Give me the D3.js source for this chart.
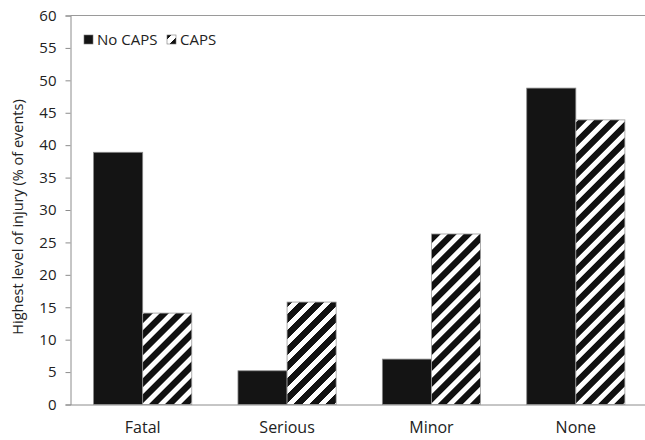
<!DOCTYPE html>
<html>
<head>
<meta charset="utf-8">
<script src="https://cdn.jsdelivr.net/npm/d3@7"></script>
<style>
  html, body { margin: 0; padding: 0; background: #fff; }
  svg { display: block; }
  text { font-family: "Open Sans", "Noto Sans", sans-serif; fill: #222; }
</style>
</head>
<body>
<svg id="chart" width="645" height="440"></svg>
<script>
// Injury severity by group
const categories = ["Fatal", "Serious", "Minor", "None"];
const seriesNames = ["No CAPS", "CAPS"];
const noCaps = [38.9, 5.2, 7.0, 48.8];
const caps = [14.1, 15.8, 26.3, 43.9];
const yTicks = [0, 5, 10, 15, 20, 25, 30, 35, 40, 45, 50, 55, 60];

const svg = d3.select("#chart");
const margin = { left: 70.5, top: 15.5, right: -3, bottom: 35.5 };
const W = 645, H = 440;
const x0 = margin.left, x1 = W - margin.right;
const yTop = margin.top, yBot = H - margin.bottom;

// Diagonal stripe fill for the CAPS series
const defs = svg.append("defs");
const pat = defs.append("pattern")
  .attr("id", "stripes")
  .attr("patternUnits", "userSpaceOnUse")
  .attr("width", 16).attr("height", 16);
pat.append("rect").attr("width", 16).attr("height", 16).attr("fill", "#fff");
pat.append("path")
  .attr("d", "M-4,4 L4,-4 M-4,20 L20,-4 M12,20 L20,12")
  .attr("stroke", "#111").attr("stroke-width", 6)
  .attr("shape-rendering", "crispEdges");

const x = d3.scaleBand().domain(categories).range([x0, x1]).paddingInner(0.32).paddingOuter(0.16);
const xs = d3.scaleBand().domain(seriesNames).range([0, x.bandwidth()]);
const y = d3.scaleLinear().domain([0, 60]).range([yBot, yTop]);

// Top edge of the plot area
svg.append("line")
  .attr("x1", x0).attr("x2", W).attr("y1", yTop).attr("y2", yTop)
  .attr("stroke", "#9a9a9a").attr("stroke-width", 1);

const rows = categories.map((c, i) => ({ cat: c, vals: [noCaps[i], caps[i]] }));

const g = svg.append("g").selectAll("g").data(rows).join("g")
  .attr("transform", d => `translate(${x(d.cat)},0)`);

g.selectAll("rect").data(d => d.vals.map((v, j) => ({ v, s: seriesNames[j] })))
  .join("rect")
  .attr("x", d => xs(d.s))
  .attr("width", xs.bandwidth())
  .attr("y", d => y(d.v))
  .attr("height", d => y(0) - y(d.v))
  .attr("fill", d => d.s === "CAPS" ? "url(#stripes)" : "#141414")
  .attr("stroke", d => d.s === "CAPS" ? "#999" : "#888")
  .attr("stroke-width", 0.8);

// Y axis
const yAxis = d3.axisLeft(y).tickValues(yTicks).tickSize(5).tickPadding(9);
const ya = svg.append("g").attr("transform", `translate(${x0},0)`).call(yAxis);
ya.select(".domain").attr("stroke", "#8c8c8c");
ya.selectAll(".tick line").attr("stroke", "#8c8c8c");
ya.selectAll(".tick text").style("font-size", "15px").style("font-family", "'Open Sans', sans-serif").attr("fill", "#262626");

// X axis
const xAxis = d3.axisBottom(x).tickSize(0).tickPadding(17);
const xa = svg.append("g").attr("transform", `translate(0,${yBot})`).call(xAxis);
xa.select(".domain").attr("stroke", "#8c8c8c").attr("d", `M${x0},0.5H${W}`);
xa.selectAll(".tick text").style("font-size", "16px").style("font-family", "'Open Sans', sans-serif").attr("fill", "#262626");

// Y axis title
svg.append("text")
  .attr("transform", `translate(23,${(yTop + yBot) / 2 + 7}) rotate(-90)`)
  .attr("text-anchor", "middle")
  .attr("fill", "#262626")
  .style("font-size", "14.5px")
  .text("Highest level of injury (% of events)");

// Legend
const legend = svg.append("g").attr("transform", "translate(84,35)");
const items = [
  { name: "No CAPS", fill: "#141414", x: 0 },
  { name: "CAPS", fill: "url(#stripes)", x: 83 }
];
const li = legend.selectAll("g").data(items).join("g").attr("transform", d => `translate(${d.x},0)`);
li.append("rect").attr("width", 9).attr("height", 9)
  .attr("fill", d => d.fill).attr("stroke", "#777").attr("stroke-width", 0.6);
li.append("text").attr("x", 13).attr("y", 10).attr("fill", "#262626").style("font-size", "15px").text(d => d.name);
</script>
</body>
</html>
